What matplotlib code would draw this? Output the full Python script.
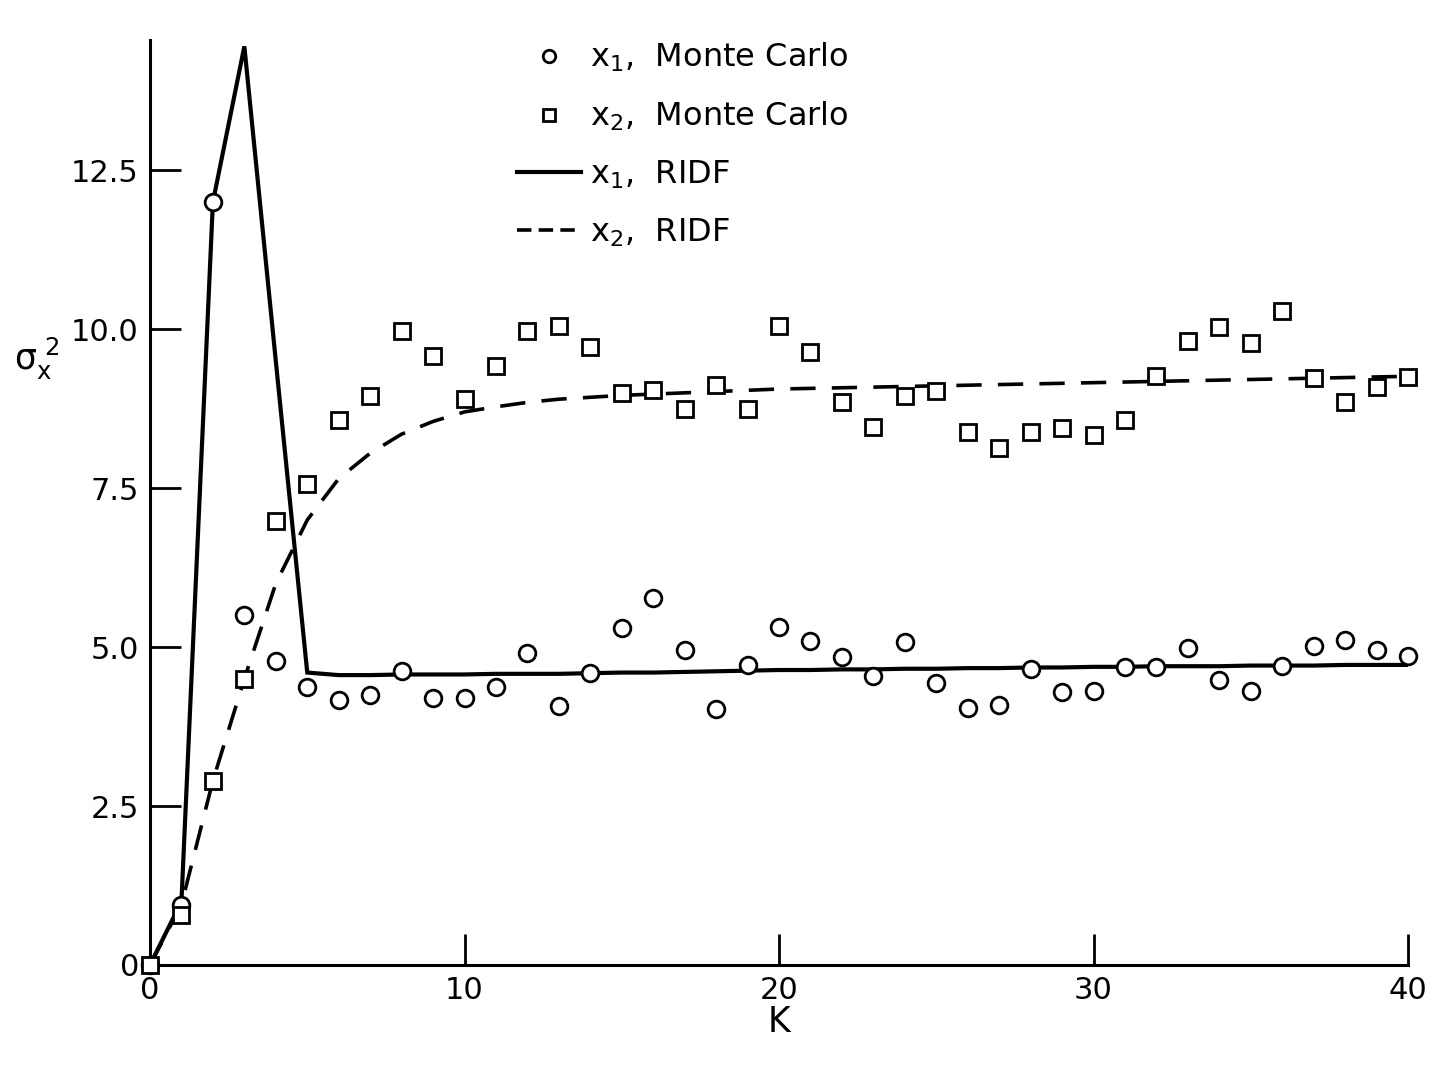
import matplotlib
matplotlib.use("Agg")
import matplotlib.pyplot as plt
from matplotlib.lines import Line2D

plt.rcParams['font.family'] = ['DejaVu Sans']
plt.rcParams['mathtext.default'] = 'regular'

# stage index K
k = list(range(41))

# Monte Carlo estimates of the variance
x1_mc = [0.0, 0.94, 12.0, 5.5, 4.78, 4.37, 4.17, 4.25, 4.62, 4.2,
         4.2, 4.37, 4.9, 4.07, 4.59, 5.3, 5.77, 4.95, 4.03, 4.72,
         5.31, 5.09, 4.84, 4.54, 5.08, 4.43, 4.04, 4.09, 4.65, 4.29,
         4.31, 4.69, 4.69, 4.98, 4.48, 4.31, 4.7, 5.02, 5.11, 4.95, 4.86]
x2_mc = [0.0, 0.79, 2.9, 4.5, 6.98, 7.56, 8.57, 8.95, 9.98, 9.58,
         8.9, 9.42, 9.97, 10.05, 9.72, 9.0, 9.04, 8.74, 9.13, 8.74,
         10.05, 9.65, 8.85, 8.46, 8.95, 9.03, 8.38, 8.13, 8.38, 8.44,
         8.33, 8.57, 9.26, 9.81, 10.03, 9.78, 10.28, 9.23, 8.85, 9.09, 9.25]

# RIDF predictions
x1_ridf = [0.0, 1.0, 12.0, 14.45, 9.5, 4.6, 4.56, 4.56, 4.57, 4.57,
           4.57, 4.58, 4.58, 4.58, 4.59, 4.6, 4.6, 4.61, 4.62, 4.63,
           4.64, 4.64, 4.65, 4.65, 4.66, 4.66, 4.67, 4.67, 4.68, 4.68,
           4.69, 4.69, 4.7, 4.7, 4.7, 4.71, 4.71, 4.71, 4.72, 4.72, 4.72]
x2_ridf = [0.0, 0.95, 2.9, 4.5, 6.0, 7.0, 7.65, 8.05, 8.35, 8.55,
           8.7, 8.78, 8.85, 8.9, 8.93, 8.96, 8.98, 9.0, 9.02, 9.04,
           9.06, 9.07, 9.08, 9.09, 9.1, 9.11, 9.12, 9.13, 9.14, 9.15,
           9.16, 9.17, 9.18, 9.19, 9.2, 9.21, 9.22, 9.23, 9.24, 9.25, 9.26]

fig = plt.figure(figsize=(14.37, 10.70), dpi=100)
ax = fig.add_axes([150 / 1437, 105 / 1070, 1258 / 1437, 925 / 1070])

ax.plot(k, x1_ridf, color='black', lw=3.0, solid_joinstyle='miter', zorder=2)
ax.plot(k, x2_ridf, color='black', lw=2.6, dashes=(7, 4.5), zorder=2)
ax.plot(k, x1_mc, ls='none', marker='o', ms=12, mfc='white', mec='black',
        mew=2.0, clip_on=False, zorder=3)
ax.plot(k, x2_mc, ls='none', marker='s', ms=11, mfc='white', mec='black',
        mew=2.0, clip_on=False, zorder=3)

ax.set_xlim(0, 40)
ax.set_ylim(0, 14.55)
ax.spines['top'].set_visible(False)
ax.spines['right'].set_visible(False)
ax.spines['left'].set_linewidth(2.2)
ax.spines['bottom'].set_linewidth(2.2)

ax.set_xticks([0, 10, 20, 30, 40])
ax.set_yticks([0, 2.5, 5.0, 7.5, 10.0, 12.5])
ax.set_yticklabels(['0', '2.5', '5.0', '7.5', '10.0', '12.5'])
ax.tick_params(direction='in', length=22, width=2, labelsize=22, pad=8)

ax.set_xlabel('K', fontsize=25, labelpad=0)
ax.set_ylabel(r'$\sigma_x^{\ 2}$', fontsize=25, rotation=0)
ax.yaxis.set_label_coords(-0.09, 0.63)

handles = [
    Line2D([], [], ls='none', marker='o', ms=9, mfc='white', mec='black', mew=2),
    Line2D([], [], ls='none', marker='s', ms=8.5, mfc='white', mec='black', mew=2),
    Line2D([], [], color='black', lw=3.0),
    Line2D([], [], color='black', lw=2.6, dashes=(4, 2)),
]
labels = ['$x_1$,  Monte Carlo', '$x_2$,  Monte Carlo', '$x_1$,  RIDF', '$x_2$,  RIDF']
fig.legend(handles, labels, loc='upper left', bbox_to_anchor=(488 / 1437, 1058 / 1070),
           frameon=False, fontsize=23, handlelength=2.0, handletextpad=0.3,
           labelspacing=0.8)

fig.savefig('out.png', dpi=100)
